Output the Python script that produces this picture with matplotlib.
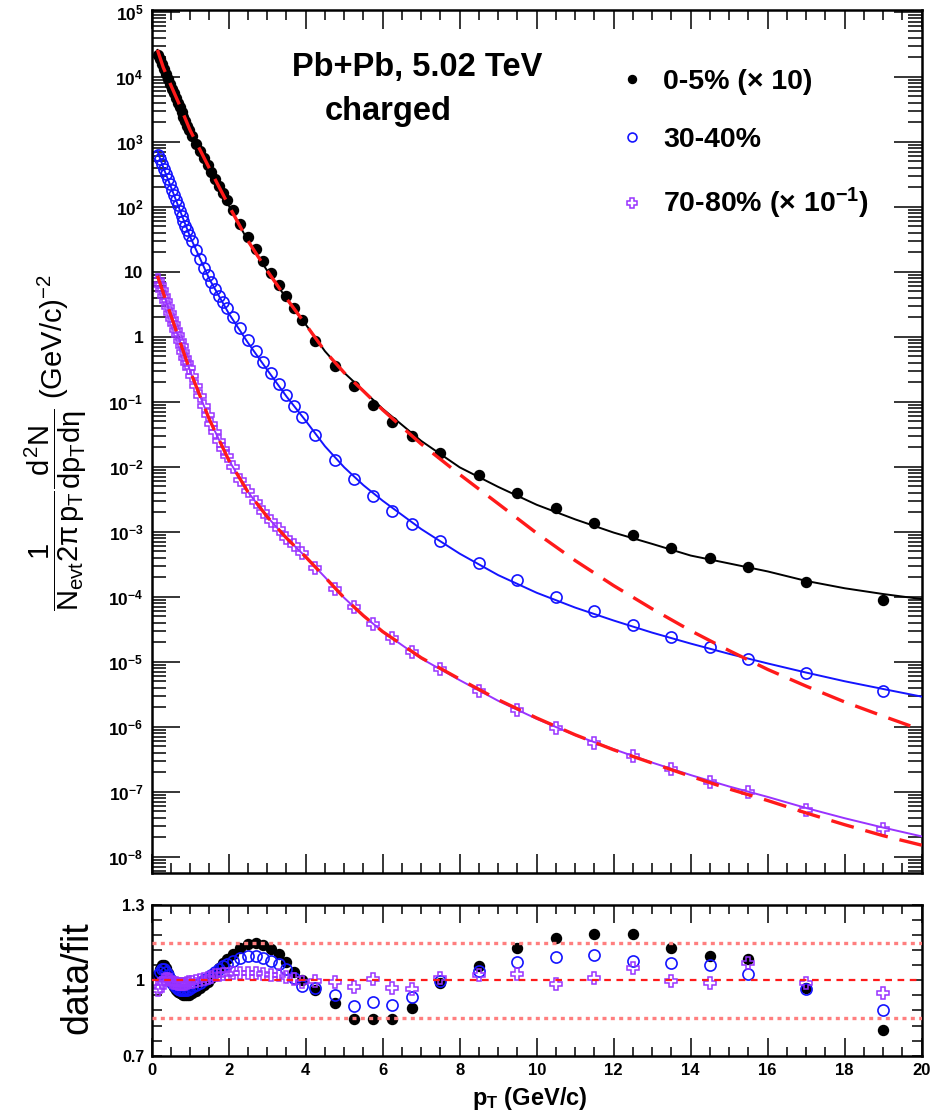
import numpy as np
import matplotlib
matplotlib.use("Agg")
import matplotlib.pyplot as plt
from matplotlib.ticker import MultipleLocator, FuncFormatter, FixedLocator, NullFormatter

plt.rcParams.update({
    "font.family": ["Liberation Sans", "DejaVu Sans"],
    "mathtext.fontset": "custom",
    "mathtext.rm": "Liberation Sans",
    "mathtext.it": "Liberation Sans",
    "mathtext.bf": "Liberation Sans:bold",
    "mathtext.sf": "Liberation Sans",
})

# bin centres (GeV/c)
PT = [0.175, 0.225, 0.275, 0.325, 0.375, 0.425, 0.475, 0.525, 0.575, 0.625,
      0.675, 0.725, 0.775, 0.825, 0.875, 0.925, 0.975,
      1.05, 1.15, 1.25, 1.35, 1.45, 1.55, 1.65, 1.75, 1.85, 1.95,
      2.1, 2.3, 2.5, 2.7, 2.9, 3.1, 3.3, 3.5, 3.7, 3.9,
      4.25, 4.75, 5.25, 5.75, 6.25, 6.75, 7.5, 8.5, 9.5, 10.5,
      11.5, 12.5, 13.5, 14.5, 15.5, 17.0, 19.0]

# 0-5% (x10)
YIELD_0_5 = [2.2e4, 1.86e4, 1.58e4, 1.32e4, 1.12e4, 9.3e3, 7.8e3, 6.6e3, 5.6e3, 4.7e3,
             4.0e3, 3.4e3, 2.9e3, 2.45e3, 2.1e3, 1.78e3, 1.51e3,
             1.23e3, 933, 724, 562, 437, 339, 269, 209, 162, 126,
             89, 55, 34.7, 22.4, 14.5, 9.5, 6.3, 4.2, 2.75, 1.82,
             0.87, 0.36, 0.174, 0.089, 0.049, 0.030, 0.0162, 7.6e-3, 4.0e-3, 2.3e-3,
             1.38e-3, 8.9e-4, 5.6e-4, 4.0e-4, 2.9e-4, 1.7e-4, 8.9e-5]
# 30-40%
YIELD_30_40 = [630, 537, 457, 389, 324, 269, 224, 182, 151, 126,
               105, 87, 72, 60, 51, 44, 37,
               29.5, 21.4, 15.5, 11.5, 8.9, 6.9, 5.4, 4.3, 3.4, 2.75,
               2.04, 1.35, 0.89, 0.60, 0.41, 0.275, 0.186, 0.126, 0.085, 0.059,
               0.031, 0.0129, 6.5e-3, 3.5e-3, 2.1e-3, 1.32e-3, 7.2e-4, 3.3e-4, 1.78e-4, 1.0e-4,
               6.0e-5, 3.7e-5, 2.4e-5, 1.66e-5, 1.12e-5, 6.6e-6, 3.5e-6]
# 70-80% (x0.1)
YIELD_70_80 = [7.6, 6.3, 5.25, 4.27, 3.55, 2.88, 2.34, 1.91, 1.55, 1.29,
               1.05, 0.85, 0.71, 0.575, 0.48, 0.40, 0.33,
               0.25, 0.178, 0.123, 0.087, 0.063, 0.046, 0.034, 0.025, 0.019, 0.0145,
               9.8e-3, 6.3e-3, 4.2e-3, 2.9e-3, 2.04e-3, 1.48e-3, 1.1e-3, 8.1e-4, 6.2e-4, 4.7e-4,
               2.8e-4, 1.32e-4, 6.9e-5, 3.8e-5, 2.3e-5, 1.41e-5, 7.8e-6, 3.5e-6, 1.8e-6, 9.5e-7,
               5.6e-7, 3.5e-7, 2.2e-7, 1.41e-7, 1.0e-7, 5.2e-8, 2.7e-8]

RATIO_0_5 = [1.02, 1.045, 1.06, 1.06, 1.05, 1.03, 1.01, 0.99, 0.975, 0.963,
             0.955, 0.95, 0.945, 0.942, 0.94, 0.94, 0.942,
             0.948, 0.958, 0.97, 0.98, 0.995, 1.01, 1.03, 1.05, 1.07, 1.085,
             1.105, 1.13, 1.145, 1.15, 1.14, 1.125, 1.105, 1.075, 1.035, 1.0,
             0.96, 0.91, 0.845, 0.848, 0.845, 0.89, 0.988, 1.057, 1.127, 1.167,
             1.184, 1.184, 1.127, 1.097, 1.085, 0.968, 0.802]
RATIO_30_40 = [1.02, 1.035, 1.045, 1.045, 1.035, 1.02, 1.005, 0.99, 0.98, 0.972,
               0.966, 0.962, 0.96, 0.96, 0.961, 0.963, 0.966,
               0.972, 0.98, 0.99, 1.0, 1.01, 1.022, 1.034, 1.045, 1.056, 1.066,
               1.078, 1.09, 1.096, 1.095, 1.088, 1.078, 1.064, 1.045, 1.01, 0.978,
               0.968, 0.941, 0.898, 0.915, 0.902, 0.935, 0.998, 1.037, 1.074, 1.094,
               1.10, 1.078, 1.07, 1.061, 1.024, 0.964, 0.882]
RATIO_70_80 = [0.96, 0.975, 0.99, 1.0, 1.005, 1.005, 1.0, 0.995, 0.99, 0.988,
               0.986, 0.985, 0.985, 0.985, 0.987, 0.99, 0.992,
               0.995, 0.998, 1.0, 1.005, 1.01, 1.015, 1.02, 1.022, 1.025, 1.027,
               1.03, 1.03, 1.03, 1.028, 1.025, 1.022, 1.02, 1.015, 1.005, 0.995,
               0.999, 0.995, 0.975, 1.004, 0.968, 0.964, 1.008, 1.021, 1.025, 0.984,
               1.01, 1.048, 0.998, 0.99, 1.07, 0.99, 0.951]

# fit curves
FIT_PT = [0.15, 0.3, 0.5, 0.75, 1.0, 1.5, 2.0, 2.5, 3.0, 3.5, 4.0, 4.5, 5.0, 5.5, 6.0,
          7.0, 8.0, 9.0, 10.0, 11.0, 12.0, 13.0, 14.0, 15.0, 16.0, 17.0, 18.0, 19.0, 20.0]
FIT_0_5 = [2.6e4, 1.4e4, 7.4e3, 3.4e3, 1.5e3, 390, 105, 30, 10.4, 3.9, 1.55, 0.6, 0.28, 0.148, 0.078,
           0.025, 9.8e-3, 4.9e-3, 2.6e-3, 1.55e-3, 9.7e-4, 6.5e-4, 4.3e-4, 3.25e-4, 2.45e-4,
           1.75e-4, 1.35e-4, 1.1e-4, 9.2e-5]
TSALLIS_0_5 = [2.6e4, 1.4e4, 7.4e3, 3.4e3, 1.5e3, 390, 105, 30, 10.4, 3.9, 1.55, 0.6, 0.28, 0.146, 0.075,
               0.0224, 7.6e-3, 2.7e-3, 9.5e-4, 3.6e-4, 1.48e-4, 6.5e-5, 3.0e-5, 1.48e-5, 7.6e-6,
               4.2e-6, 2.4e-6, 1.45e-6, 8.9e-7]
FIT_30_40 = [720, 405, 202, 83, 34.5, 7.7, 2.3, 0.81, 0.31, 0.121, 0.051, 0.0207, 9.8e-3, 5.2e-3, 3.0e-3,
             1.1e-3, 4.6e-4, 2.15e-4, 1.15e-4, 6.8e-5, 4.3e-5, 2.8e-5, 1.9e-5, 1.32e-5, 9.4e-6,
             6.8e-6, 5.0e-6, 3.8e-6, 2.9e-6]
FIT_70_80 = [8.7, 4.75, 2.12, 0.79, 0.295, 0.053, 0.0127, 4.1e-3, 1.7e-3, 8.0e-4, 4.1e-4, 2.0e-4, 9.6e-5,
             5.1e-5, 2.9e-5, 1.12e-5, 5.2e-6, 2.5e-6, 1.32e-6, 7.4e-7, 4.5e-7, 2.8e-7, 1.8e-7, 1.2e-7,
             8.3e-8, 5.6e-8, 3.9e-8, 2.8e-8, 2.05e-8]
TSALLIS_70_80 = [8.7, 4.75, 2.12, 0.79, 0.295, 0.053, 0.0127, 4.1e-3, 1.7e-3, 8.0e-4, 4.1e-4, 2.0e-4,
                 9.6e-5, 5.1e-5, 2.9e-5, 1.15e-5, 5.4e-6, 2.6e-6, 1.36e-6, 7.5e-7, 4.4e-7, 2.75e-7,
                 1.72e-7, 1.1e-7, 7.3e-8, 4.7e-8, 3.1e-8, 2.1e-8, 1.5e-8]

LEGEND_LABELS = ["0-5% (\u00d7 10)", "30-40%", "70-80% (\u00d7 10$^{\\mathbf{-1}}$)"]
DECADES = list(range(-8, 6))
BAND_LINES = [0.85, 1.0, 1.15]

BLACK = "black"
BLUE = "#1414ff"
VIOLET = "#9933ff"
RED = "#ff1a1a"

W, H = 933, 1118


def px_box(x0, y0, x1, y1):
    return [x0 / W, 1 - y1 / H, (x1 - x0) / W, (y1 - y0) / H]


fig = plt.figure(figsize=(W / 100, H / 100), dpi=100)
ax1 = fig.add_axes(px_box(151.7, 10, 921.7, 873))
ax2 = fig.add_axes(px_box(151.7, 905, 921.7, 1055.7))

# ---- spectra ----
h0, = ax1.plot(PT, YIELD_0_5, "o", color=BLACK, ms=7.2, mec=BLACK, zorder=2)
h1, = ax1.plot(PT, YIELD_30_40, "o", mfc="none", mec=BLUE, ms=8, mew=1.2, zorder=2)
h2, = ax1.plot(PT, YIELD_70_80, "P", mfc="none", mec=VIOLET, ms=8.5, mew=1.1, zorder=2)

ax1.plot(FIT_PT, FIT_0_5, "-", color=BLACK, lw=1.4, zorder=3)
ax1.plot(FIT_PT, FIT_30_40, "-", color=BLUE, lw=1.4, zorder=3)
ax1.plot(FIT_PT, FIT_70_80, "-", color=VIOLET, lw=1.4, zorder=3)
for ys in (TSALLIS_0_5, TSALLIS_70_80):
    ln, = ax1.plot(FIT_PT, ys, "--", color=RED, lw=2.4, zorder=4)
    ln.set_dashes([7.0, 3.6])

ax1.set_yscale("log")
ax1.set_xlim(0, 20)
ax1.set_ylim(5.6e-9, 1.07e5)


def log_label(v, pos):
    e = int(round(np.log10(v)))
    if e == 0:
        return "1"
    if e == 1:
        return "10"
    return r"$\mathbf{10^{%d}}$" % e


ax1.yaxis.set_major_locator(FixedLocator([10.0 ** e for e in DECADES]))
ax1.yaxis.set_minor_locator(FixedLocator([m * 10.0 ** e for e in [-9] + DECADES for m in range(2, 10)]))
ax1.yaxis.set_major_formatter(FuncFormatter(log_label))
ax1.yaxis.set_minor_formatter(NullFormatter())
ax1.xaxis.set_major_locator(MultipleLocator(2))
ax1.xaxis.set_minor_locator(MultipleLocator(0.5))
ax1.tick_params(which="both", direction="in", top=True, right=True,
                labelbottom=False, width=1.1, pad=6)
ax1.tick_params(axis="y", which="major", length=20, labelsize=12.5)
ax1.tick_params(axis="y", which="minor", length=10)
ax1.tick_params(axis="x", which="major", length=14)
ax1.tick_params(axis="x", which="minor", length=7)
for lbl in ax1.get_yticklabels():
    lbl.set_fontweight("bold")

ax1.text(0.345, 0.9235, "Pb+Pb, 5.02 TeV", transform=ax1.transAxes,
         ha="center", va="baseline", fontsize=23.5, fontweight="bold")
ax1.text(0.307, 0.8725, "charged", transform=ax1.transAxes,
         ha="center", va="baseline", fontsize=23.5, fontweight="bold")

ax1.legend([h0, h1, h2], LEGEND_LABELS,
           loc="upper left", bbox_to_anchor=(0.605, 0.932), frameon=False,
           prop={"weight": "bold", "size": 20.5}, handlelength=1.0,
           handletextpad=0.6, labelspacing=1.15, borderaxespad=0, borderpad=0,
           markerscale=0.8)

# ---- ratio ----
ax2.plot(PT, RATIO_0_5, "o", color=BLACK, ms=7.2, zorder=2)
ax2.plot(PT, RATIO_30_40, "o", mfc="none", mec=BLUE, ms=8, mew=1.2, zorder=2)
ax2.plot(PT, RATIO_70_80, "P", mfc="none", mec=VIOLET, ms=8.5, mew=1.1, zorder=2)
for yv in BAND_LINES:
    if yv == 1.0:
        ln = ax2.axhline(yv, color=RED, lw=1.6, zorder=4)
        ln.set_dashes([3.0, 2.5])
    else:
        ln = ax2.axhline(yv, color="#ff7f7f", lw=2.4, zorder=4)
        ln.set_dashes([1.2, 1.3])

ax2.set_xlim(0, 20)
ax2.set_ylim(0.7, 1.3)
ax2.xaxis.set_major_locator(MultipleLocator(2))
ax2.xaxis.set_minor_locator(MultipleLocator(0.5))
ax2.yaxis.set_major_locator(FixedLocator([0.7, 1.0, 1.3]))
ax2.yaxis.set_minor_locator(FixedLocator([0.76, 0.82, 0.88, 0.94, 1.06, 1.12, 1.18, 1.24]))
ax2.yaxis.set_major_formatter(FuncFormatter(lambda v, p: "%g" % v))
ax2.xaxis.set_major_formatter(FuncFormatter(lambda v, p: "%d" % v))
ax2.tick_params(which="both", direction="in", top=True, right=True, width=1.1)
ax2.tick_params(axis="x", which="major", length=13, labelsize=12, pad=5)
ax2.tick_params(axis="x", which="minor", length=6.5)
ax2.tick_params(axis="y", which="both", length=7, labelsize=11.5, pad=5)
for lbl in ax2.get_xticklabels() + ax2.get_yticklabels():
    lbl.set_fontweight("bold")

for ax in (ax1, ax2):
    for sp in ax.spines.values():
        sp.set_linewidth(1.8)

# axis titles
fig.text(56 / W, 1 - 442 / H,
         r"$\dfrac{1}{N_{evt}2\pi\,p_{T}}\dfrac{d^{2}N}{dp_{T}d\eta}$ (GeV/c)$^{-2}$",
         rotation=90, ha="center", va="center", fontsize=21)
fig.text(77 / W, 1 - 978 / H, "data/fit", rotation=90, ha="center", va="center",
         fontsize=27)
fig.text(530 / W, 1 - 1098 / H, r"p$_{\mathbf{T}}$ (GeV/c)", ha="center", va="center",
         fontsize=17, fontweight="bold")

fig.savefig("out.png", dpi=100)
